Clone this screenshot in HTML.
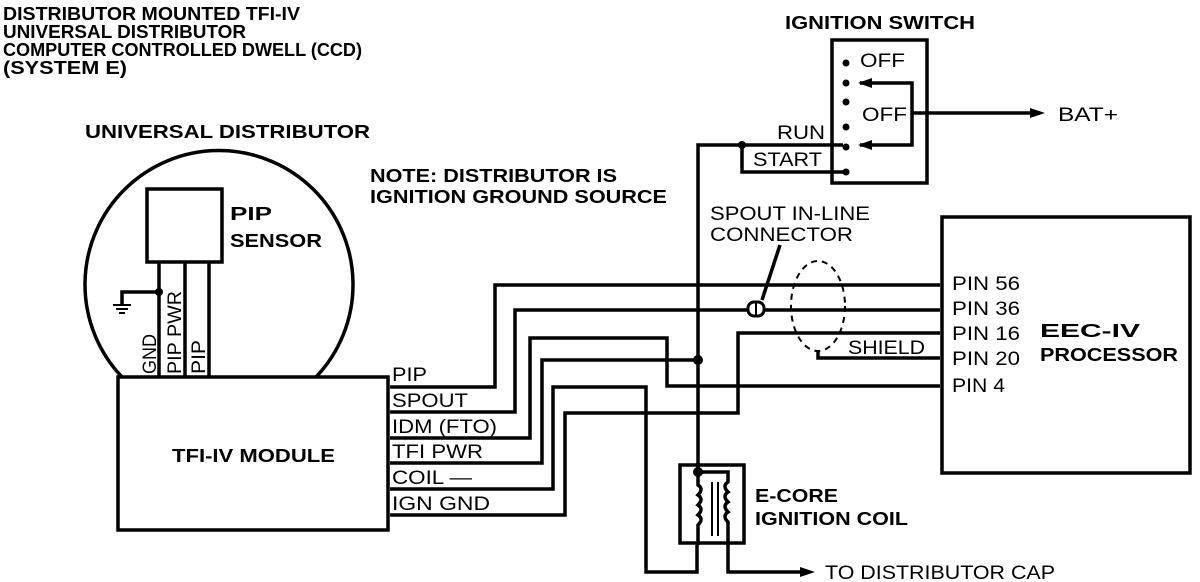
<!DOCTYPE html>
<html><head><style>
html,body{margin:0;padding:0;background:#fff;}
svg{display:block}
text{font-family:"Liberation Sans",Arial,sans-serif;fill:#000}
.b{font-weight:bold;font-size:18px}
.r{font-size:19px}
</style></head><body>
<svg width="1200" height="582" viewBox="0 0 1200 582" xmlns="http://www.w3.org/2000/svg">
<g class="b">
<text x="3" y="20" textLength="297" lengthAdjust="spacingAndGlyphs">DISTRIBUTOR MOUNTED TFI-IV</text>
<text x="3" y="38" textLength="243" lengthAdjust="spacingAndGlyphs">UNIVERSAL DISTRIBUTOR</text>
<text x="3" y="56" textLength="359" lengthAdjust="spacingAndGlyphs">COMPUTER CONTROLLED DWELL (CCD)</text>
<text x="3" y="74" textLength="124" lengthAdjust="spacingAndGlyphs">(SYSTEM E)</text>
<text x="85" y="138" textLength="285" lengthAdjust="spacingAndGlyphs">UNIVERSAL DISTRIBUTOR</text>
<text x="370" y="182" textLength="247" lengthAdjust="spacingAndGlyphs">NOTE: DISTRIBUTOR IS</text>
<text x="370" y="203" textLength="297" lengthAdjust="spacingAndGlyphs">IGNITION GROUND SOURCE</text>
<text x="785" y="29" textLength="190" lengthAdjust="spacingAndGlyphs">IGNITION SWITCH</text>
<text x="230" y="220" textLength="42" lengthAdjust="spacingAndGlyphs">PIP</text>
<text x="230" y="247" textLength="92" lengthAdjust="spacingAndGlyphs">SENSOR</text>
<text x="172" y="462" textLength="163" lengthAdjust="spacingAndGlyphs">TFI-IV MODULE</text>
<text x="1040" y="337" textLength="100" lengthAdjust="spacingAndGlyphs">EEC-IV</text>
<text x="1040" y="361" textLength="138" lengthAdjust="spacingAndGlyphs">PROCESSOR</text>
<text x="755" y="502" textLength="83" lengthAdjust="spacingAndGlyphs">E-CORE</text>
<text x="755" y="525" textLength="153" lengthAdjust="spacingAndGlyphs">IGNITION COIL</text>
</g>
<g fill="none" stroke="#000" stroke-width="3.5">
<path d="M122 377 A134 134 0 1 1 316 377"/>
<rect x="147" y="189" width="75" height="73"/>
<path d="M159 262V377M185 262V377M209 262V377"/>
<path d="M159 292H122V304"/>
<rect x="118" y="377" width="270" height="153"/>
<path d="M390 387H495V285H940"/>
<path d="M390 412H515V310H940"/>
<path d="M390 438H530V338H667V386H940"/>
<path d="M390 463H542V360H698"/>
<path d="M390 489H553V387H646V572H697V545"/>
<path d="M390 515H565V413H738V333H940"/>
<path d="M818 350V358H940"/>
<path d="M698 472V145H843"/>
<path d="M742 145V172H845"/>
<rect x="832" y="40" width="95" height="143"/>
<path d="M860 83H912V145H860M912 113H1040"/>
<path d="M780 245L762 300"/>
<rect x="942" y="217" width="248" height="256"/>
<rect x="680" y="465" width="64" height="78"/>
<path d="M698 472H728V482q-6 4 0 10q-6 4 0 10q-6 4 0 10q-6 4 0 10V545V572H800"/>
<path d="M698 472V485q6 4 0 10q6 4 0 10q6 4 0 10q6 4 0 10V545"/>
</g>
<path d="M712 482V536M718 482V536" stroke="#000" stroke-width="2"/>
<rect x="748" y="302" width="16" height="14" rx="6" fill="#fff" stroke="#000" stroke-width="3"/>
<path d="M756 302V316" stroke="#000" stroke-width="2"/>
<ellipse cx="818" cy="306" rx="27" ry="45" fill="none" stroke="#000" stroke-width="2" stroke-dasharray="6 5"/>
<path d="M113 305H131M116 309H128M119 313H125" stroke="#000" stroke-width="2"/>
<polygon points="858,83 872,78 872,88"/>
<polygon points="858,145 872,140 872,150"/>
<polygon points="1045,113 1030,108 1030,118"/>
<polygon points="815,572 800,567 800,577"/>
<g>
<circle cx="159" cy="292" r="4"/>
<circle cx="742" cy="145" r="4"/>
<circle cx="698" cy="360" r="5"/>
<circle cx="698" cy="472" r="5"/>
<circle cx="846" cy="63" r="3.5"/>
<circle cx="846" cy="83" r="3.5"/>
<circle cx="846" cy="102" r="3.5"/>
<circle cx="846" cy="127" r="3.5"/>
<circle cx="846" cy="147" r="3.5"/>
<circle cx="846" cy="172" r="3.5"/>
</g>
<g class="r">
<text x="860" y="67" textLength="45" lengthAdjust="spacingAndGlyphs">OFF</text>
<text x="862" y="121" textLength="45" lengthAdjust="spacingAndGlyphs">OFF</text>
<text x="777" y="139" textLength="48" lengthAdjust="spacingAndGlyphs">RUN</text>
<text x="753" y="166" textLength="69" lengthAdjust="spacingAndGlyphs">START</text>
<text x="1058" y="121" textLength="60" lengthAdjust="spacingAndGlyphs">BAT+</text>
<text x="710" y="220" textLength="160" lengthAdjust="spacingAndGlyphs">SPOUT IN-LINE</text>
<text x="710" y="241" textLength="143" lengthAdjust="spacingAndGlyphs">CONNECTOR</text>
<text x="848" y="354" textLength="77" lengthAdjust="spacingAndGlyphs">SHIELD</text>
<text x="952" y="290" textLength="68" lengthAdjust="spacingAndGlyphs">PIN 56</text>
<text x="952" y="315" textLength="68" lengthAdjust="spacingAndGlyphs">PIN 36</text>
<text x="952" y="340" textLength="68" lengthAdjust="spacingAndGlyphs">PIN 16</text>
<text x="952" y="365" textLength="68" lengthAdjust="spacingAndGlyphs">PIN 20</text>
<text x="952" y="392" textLength="53" lengthAdjust="spacingAndGlyphs">PIN 4</text>
<text x="392" y="381" textLength="35" lengthAdjust="spacingAndGlyphs">PIP</text>
<text x="392" y="407" textLength="76" lengthAdjust="spacingAndGlyphs">SPOUT</text>
<text x="392" y="433" textLength="105" lengthAdjust="spacingAndGlyphs">IDM (FTO)</text>
<text x="392" y="458" textLength="91" lengthAdjust="spacingAndGlyphs">TFI PWR</text>
<text x="392" y="484" textLength="80" lengthAdjust="spacingAndGlyphs">COIL —</text>
<text x="392" y="510" textLength="98" lengthAdjust="spacingAndGlyphs">IGN GND</text>
<text x="825" y="579" textLength="230" lengthAdjust="spacingAndGlyphs">TO DISTRIBUTOR CAP</text>
<text transform="translate(156,374) rotate(-90)" textLength="40" lengthAdjust="spacingAndGlyphs">GND</text>
<text transform="translate(181,374) rotate(-90)" textLength="83" lengthAdjust="spacingAndGlyphs">PIP PWR</text>
<text transform="translate(205,374) rotate(-90)" textLength="34" lengthAdjust="spacingAndGlyphs">PIP</text>
</g>
</svg>
</body></html>
